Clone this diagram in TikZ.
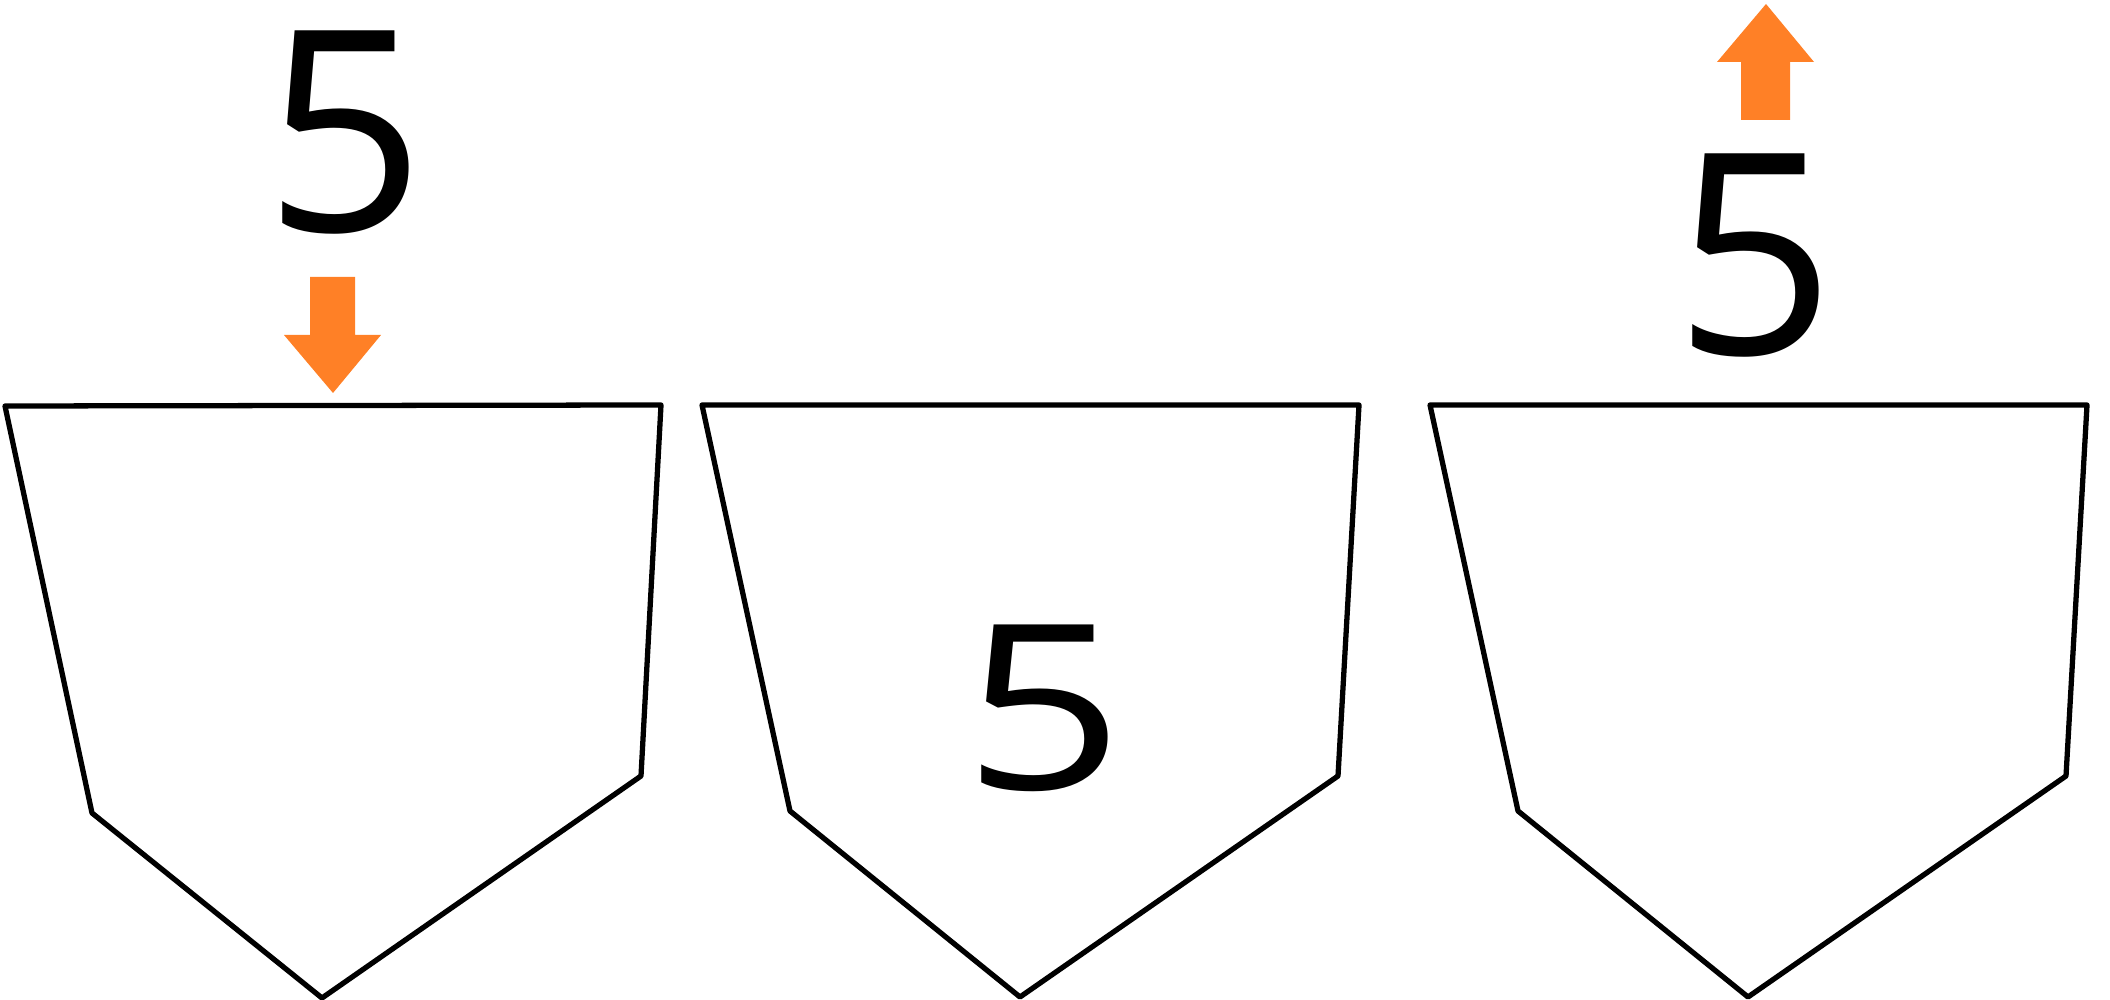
\documentclass[tikz,border=0pt]{standalone}
\usepackage{fontspec}
\setmainfont{Open Sans}
\usepackage{tikz}
\usetikzlibrary{calc,positioning}
\definecolor{arroworange}{RGB}{255,128,38}

\begin{document}
\begin{tikzpicture}[x=1cm,y=1cm,pocket/.style = {draw=black, line width=1.5pt, line join=round, fill=white},digit/.style = {inner sep=0pt, font=\fontsize{80}{80}\selectfont},]
\useasboundingbox (0,0) rectangle (21.1,-10);
\draw[pocket] (0.05,-4.06)--(6.61,-4.05)--(6.41,-7.76)--(3.22,-9.98)--(0.92,-8.13)--cycle;
\draw[pocket] (7.02,-4.05)--(13.59,-4.05)--(13.38,-7.76)--(10.20,-9.97)--(7.90,-8.11)--cycle;
\draw[pocket] (14.30,-4.05)--(20.87,-4.05)--(20.66,-7.76)--(17.48,-9.97)--(15.18,-8.11)--cycle;
\node (five1) at (3.45,-1.33)[digit] {5};
\node (five2) at (10.44,-7.08)[digit,yscale=0.82] {5};
\node (five3) at (17.55,-2.56)[digit] {5};
\fill[arroworange] (3.10,-2.77)--(3.55,-2.77)--(3.55,-3.35)--(3.81,-3.35)--(3.33,-3.93)--(2.84,-3.35)--(3.10,-3.35)--cycle;
\fill[arroworange] (17.41,-1.20)--(17.90,-1.20)--(17.90,-0.62)--(18.14,-0.62)--(17.66,-0.04)--(17.17,-0.62)--(17.41,-0.62)--cycle;
\end{tikzpicture}
\end{document}
